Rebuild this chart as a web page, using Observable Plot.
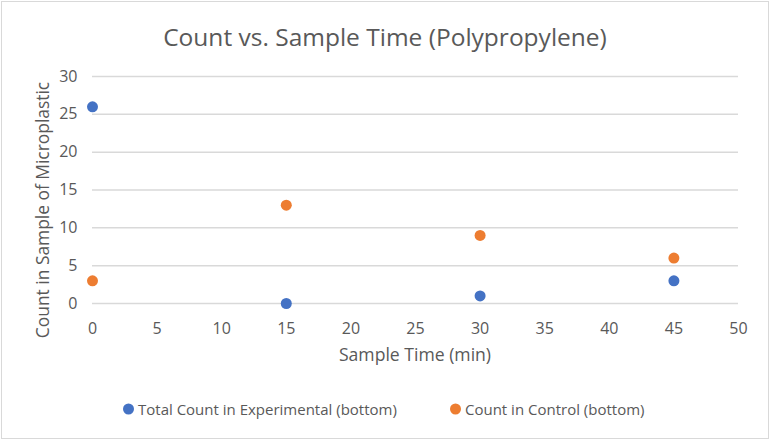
<!DOCTYPE html>
<html><head><meta charset="utf-8">
<script src="https://cdn.jsdelivr.net/npm/d3@7"></script>
<script src="https://cdn.jsdelivr.net/npm/@observablehq/plot@0.6"></script>
<style>
html,body{margin:0;padding:0;background:#fff;}
#wrap{position:relative;width:770px;height:440px;overflow:hidden;font-family:"Open Sans",sans-serif;color:#595959;}
#frame{position:absolute;left:1px;top:1px;width:766px;height:436px;border:1px solid #d9d9d9;}
.t{position:absolute;white-space:nowrap;line-height:1;}
#title{left:385px;top:37px;font-size:24.5px;transform:translate(-50%,-50%);}
#ylab{left:43px;top:210px;font-size:17.4px;transform:translate(-50%,-50%) rotate(-90deg);}
#xlab{left:415px;top:355px;font-size:17.6px;transform:translate(-50%,-50%);}
.leg{top:409px;font-size:15px;transform:translateY(-50%);display:flex;align-items:center;}
.dot{width:11px;height:11px;border-radius:50%;display:inline-block;margin-right:4.5px;}
svg{position:absolute;left:0;top:0;}
</style></head>
<body><div id="wrap"><div id="frame"></div><div id="chart"></div>
<div id="title" class="t"></div>
<div id="ylab" class="t"></div>
<div id="xlab" class="t"></div>
<div id="legend"></div>
</div>
<script>
const times = [0, 15, 30, 45];
const experimental = [26, 0, 1, 3];
const control = [3, 13, 9, 6];
const seriesNames = ["Total Count in Experimental (bottom)", "Count in Control (bottom)"];
const seriesColors = ["#4472C4", "#ED7D31"];
const xTicks = [0,5,10,15,20,25,30,35,40,45,50];
const yTicks = [0,5,10,15,20,25,30];
const titleText = "Count vs. Sample Time (Polypropylene)";
const xLabel = "Sample Time (min)";
const yLabel = "Count in Sample of Microplastic";

const data = [];
times.forEach((t,i)=>{ data.push({t, v: experimental[i], s: seriesNames[0]}); });
times.forEach((t,i)=>{ data.push({t, v: control[i], s: seriesNames[1]}); });

const chart = Plot.plot({
  width: 770, height: 440,
  marginLeft: 92, marginRight: 32, marginTop: 76, marginBottom: 137,
  style: {fontFamily: "'Open Sans', sans-serif", fontSize: "16px", color: "#595959", background: "transparent"},
  x: {domain: [0, 50], ticks: xTicks, tickSize: 0, tickPadding: 19, label: null},
  y: {domain: [0, 30], ticks: yTicks, tickSize: 0, tickPadding: 15, label: null},
  color: {domain: seriesNames, range: seriesColors},
  marks: [
    Plot.ruleY(yTicks, {stroke: "#d9d9d9", strokeWidth: 1.5}),
    Plot.dot(data, {x: "t", y: "v", fill: "s", r: 5.5, stroke: "none"})
  ]
});
document.getElementById("chart").appendChild(chart);
document.getElementById("title").textContent = titleText;
document.getElementById("xlab").textContent = xLabel;
document.getElementById("ylab").textContent = yLabel;
const legX = [122.5, 449.5];
const leg = document.getElementById("legend");
seriesNames.forEach((n,i)=>{
  const d = document.createElement("div");
  d.className = "t leg"; d.style.left = legX[i] + "px";
  d.innerHTML = `<span class="dot" style="background:${seriesColors[i]}"></span><span>${n}</span>`;
  leg.appendChild(d);
});
</script></body></html>
